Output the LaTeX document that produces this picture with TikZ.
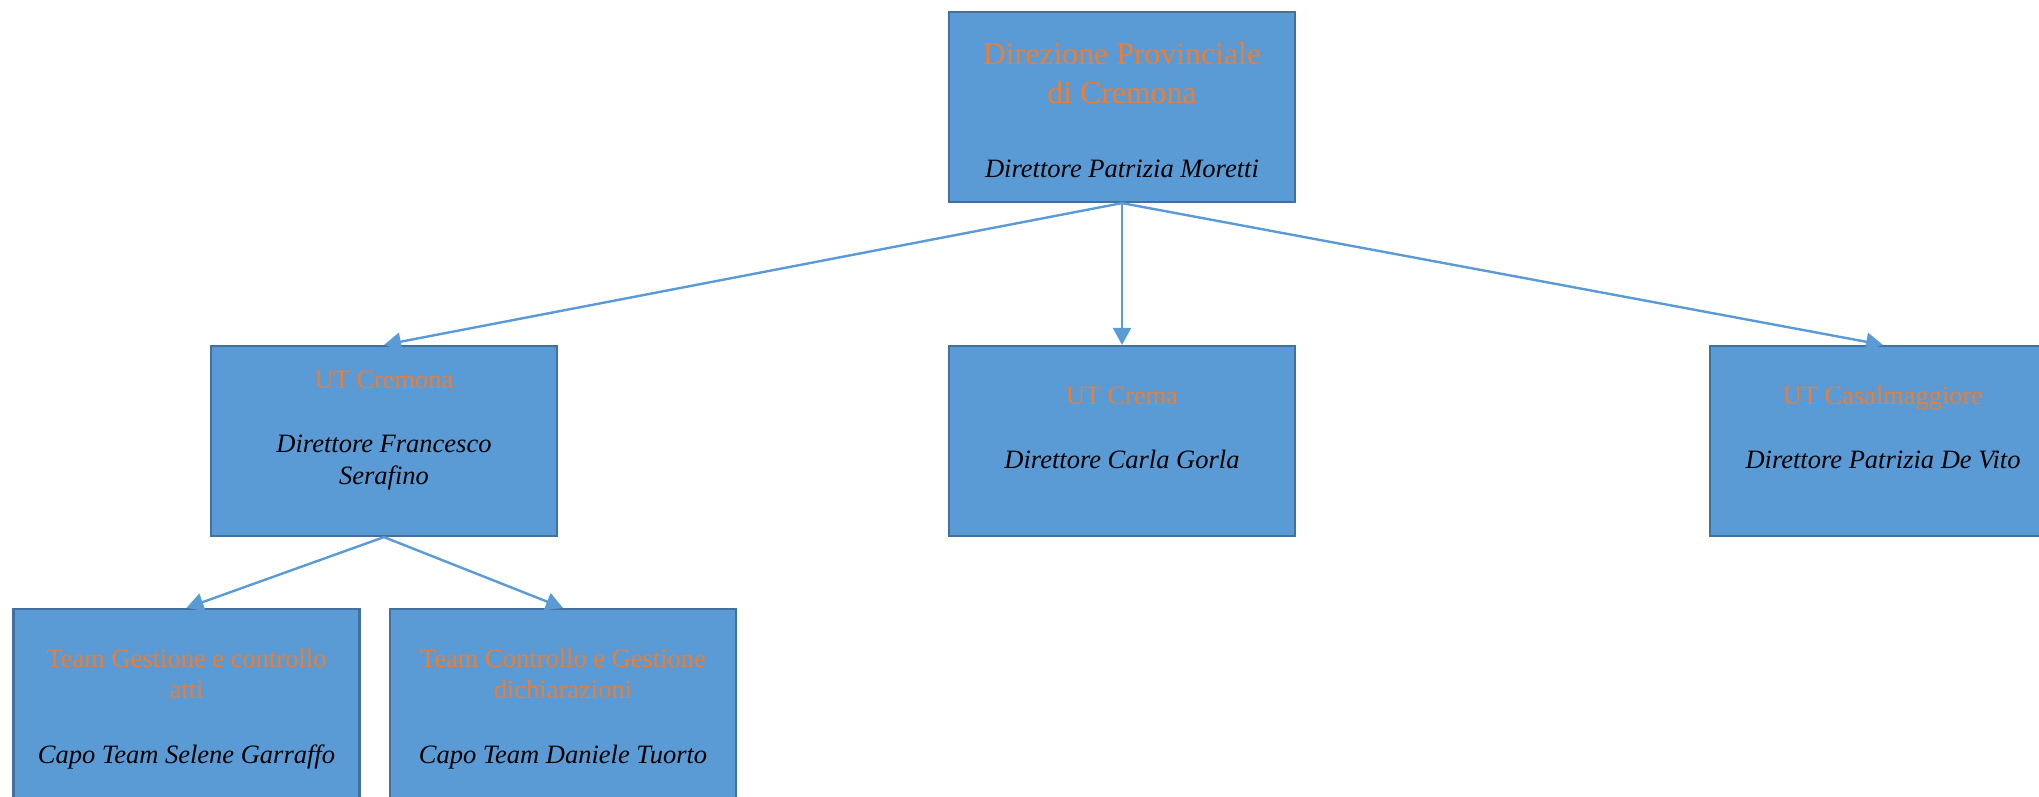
\documentclass[tikz,border=0pt]{standalone}
\usepackage{fontspec}
\setmainfont{Liberation Serif}
\usepackage{xcolor}
\usepackage{tikz}
\usetikzlibrary{arrows.meta}

\definecolor{azzurro}{HTML}{5B9BD5}
\definecolor{bordoblu}{HTML}{41719C}
\definecolor{arancio}{HTML}{ED7D31}

\tikzset{
  ufficio/.style={draw=bordoblu, fill=azzurro, line width=1.1pt,
    minimum width=173pt, minimum height=95pt, inner sep=0pt},
  titolo/.style={text=arancio, anchor=base, align=center, inner sep=0pt,
    font=\fontsize{13.2}{16}\selectfont},
  nome/.style={anchor=base, align=center, inner sep=0pt,
    font=\fontsize{13.25}{16}\selectfont\itshape},
  freccia/.style={draw=azzurro, line width=1.2pt,
    -{Triangle[width=9pt,length=8.5pt]}}
}

\begin{document}
\begin{tikzpicture}[x=0.5pt,y=-0.5pt]
            \useasboundingbox (0,0) rectangle (2039,797);

            % direzione
            \node [ufficio] (dp) at (1122,107) {};
            \node [titolo, font=\fontsize{15.9}{19.5}\selectfont] (dp-t) at (1122,104) {Direzione Provinciale\\di Cremona};
            \node [nome] (dp-n) at (1122,177) {Direttore Patrizia Moretti};

            % uffici territoriali
            \node [ufficio] (utcr) at (384,441) {};
            \node [titolo] (utcr-t) at (384,388) {UT Cremona};
            \node [nome] (utcr-n) at (384,484) {Direttore Francesco\\Serafino};

            \node [ufficio] (utcm) at (1122,441) {};
            \node [titolo] (utcm-t) at (1122,404) {UT Crema};
            \node [nome] (utcm-n) at (1122,468) {Direttore Carla Gorla};

            \node [ufficio] (utcs) at (1883,441) {};
            \node [titolo] (utcs-t) at (1883,404) {UT Casalmaggiore};
            \node [nome] (utcs-n) at (1883,468) {Direttore Patrizia De Vito};

            % team
            \node [ufficio] (tga) at (186.5,704) {};
            \node [titolo, font=\fontsize{13.25}{15.5}\selectfont] (tga-t) at (186.5,698) {Team Gestione e controllo\\atti};
            \node [nome] (tga-n) at (186.5,763) {Capo Team Selene Garraffo};

            \node [ufficio] (tcg) at (563,704) {};
            \node [titolo, font=\fontsize{13.25}{15.5}\selectfont] (tcg-t) at (563,698) {Team Controllo e Gestione\\dichiarazioni};
            \node [nome] (tcg-n) at (563,763) {Capo Team Daniele Tuorto};

            \draw [freccia] (dp.south) -- (utcr.north);
            \draw [freccia] (dp.south) -- (utcm.north);
            \draw [freccia] (dp.south) -- (utcs.north);
            \draw [freccia] (utcr.south) -- (tga.north);
            \draw [freccia] (utcr.south) -- (tcg.north);

        \end{tikzpicture}
\end{document}
